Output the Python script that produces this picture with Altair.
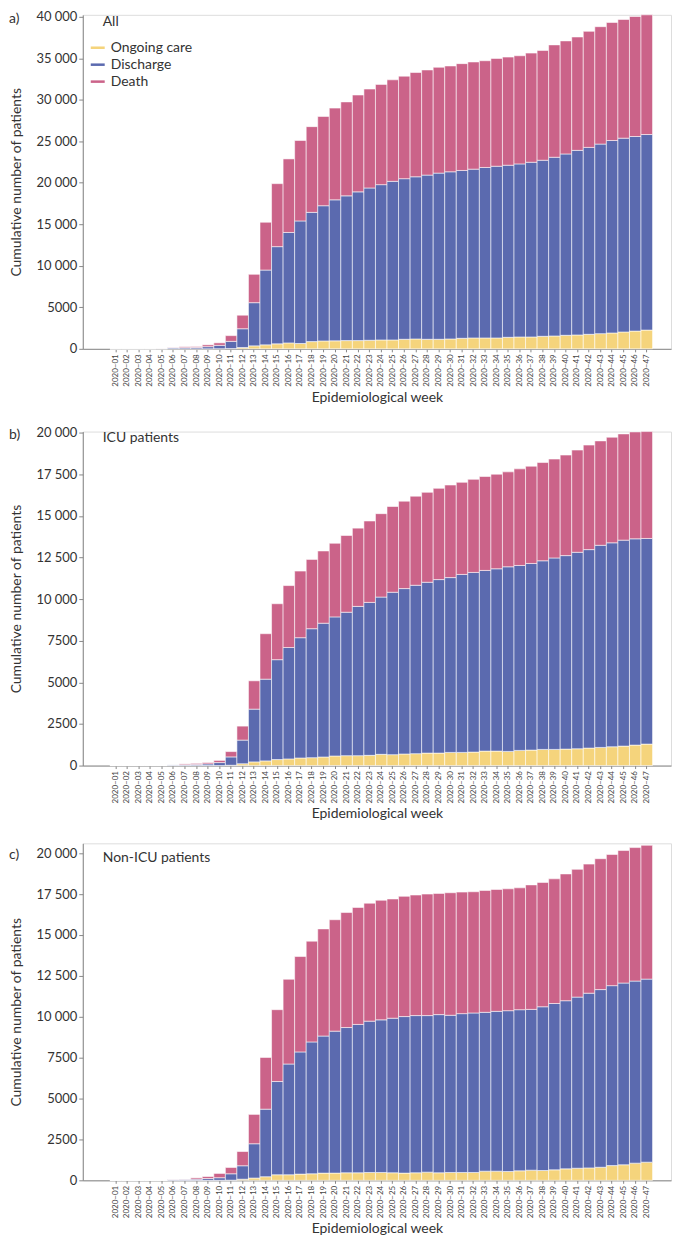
import altair as alt
import pandas as pd

FONT = "Lato"
weeks = [f"2020–{i:02d}" for i in range(1, 48)]
pad_left = ["pad1", "pad2"]
pad_right = ["pad3"]
outcomes = ["Ongoing care", "Discharge", "Death"]
colors = ["#F5D47C", "#5B6AAF", "#CB6389"]

# Panel a) All
ongoing_a = [0,0,0,0,0,0,0,0,0,10, 30,160,360,480,600,715,640,870,950,960,
             990,990,1030,1070,1070,1150,1190,1150,1150,1190, 1270,1310,1310,1310,1390,1430,1430,1510,1550,1630,
             1670,1750,1830,1910,2030,2140,2260]
discharge_a = [0,0,0,0,10,120,140,160,260,410, 870,2260,5200,9010,11710,13305,14770,15570,16290,16990,
               17440,17920,18350,18710,19110,19350,19540,19780,20020,20140, 20220,20340,20540,20690,20730,20850,21050,21210,21530,21850,
               22240,22520,22840,23190,23350,23440,23560]
death_a = [0,0,0,0,10,40,110,110,220,300, 690,1630,3420,5760,7590,8860,9690,10330,10760,11050,
           11320,11670,11920,12080,12230,12350,12560,12670,12750,12750, 12870,12910,12860,12990,13030,13030,13150,13230,13540,13620,
           13660,13980,14140,14220,14300,14460,14420]

# Panel b) ICU patients
ongoing_b = [0,0,0,0,0,0,0,0,0,0, 20,110,220,280,360,400,455,475,515,575,
             595,595,615,675,655,695,715,750,750,790, 790,810,870,870,850,910,930,970,970,990,
             1010,1050,1090,1130,1170,1230,1290]
discharge_b = [0,0,0,0,0,40,50,70,100,180, 500,1420,3170,4910,6000,6690,7225,7745,8035,8355,
               8615,8965,9185,9445,9755,9935,10115,10260,10420,10500, 10690,10790,10850,10950,11090,11110,11210,11330,11500,11620,
               11800,11920,12140,12250,12370,12390,12350]
death_b = [0,0,0,0,0,0,50,60,80,130, 320,840,1700,2730,3360,3720,4000,4160,4340,4420,
           4610,4700,4890,5010,5150,5250,5350,5400,5480,5560, 5530,5590,5640,5680,5700,5800,5840,5900,5940,6040,
           6140,6280,6270,6340,6380,6420,6420]

# Panel c) Non-ICU patients
ongoing_c = [0,0,0,0,0,0,0,0,0,0, 10,70,140,220,340,340,380,400,440,440,
             460,460,480,480,460,440,460,500,460,480, 480,480,560,560,540,580,620,600,640,700,
             740,760,800,900,950,1050,1110]
discharge_c = [0,0,0,0,0,50,60,70,110,160, 390,820,2095,4130,5700,6770,7470,8060,8380,8680,
               8880,9070,9250,9330,9450,9570,9610,9570,9670,9610, 9710,9750,9710,9770,9830,9850,9830,10010,10170,10280,
               10460,10680,10860,11000,11110,11130,11190]
death_c = [0,0,0,0,0,10,10,80,120,260, 385,870,1795,3160,4390,5180,5830,6160,6550,6810,
           7030,7150,7210,7310,7290,7350,7370,7430,7410,7490, 7430,7410,7450,7450,7450,7450,7610,7600,7620,7750,
           7810,7890,8000,8020,8100,8160,8180]

ticks_a = [0, 5000, 10000, 15000, 20000, 25000, 30000, 35000, 40000]
ticks_bc = [0, 2500, 5000, 7500, 10000, 12500, 15000, 17500, 20000]

LABEL_EXPR = "datum.value >= 10000 ? replace(format(datum.value, ','), ',', ' ') : format(datum.value, 'd')"


def panel(letter, title, ongoing, discharge, death, ticks, show_legend, ytop, height):
    rows = []
    for i, w in enumerate(weeks):
        for k, vals in enumerate([ongoing, discharge, death]):
            rows.append({"week": w, "outcome": outcomes[k], "value": vals[i], "order": k})
    df = pd.DataFrame(rows)

    if show_legend:
        legend = alt.Legend(
            title=None, orient="none", legendX=8, legendY=26,
            symbolType="M-1,-0.18H1V0.18H-1Z", symbolSize=196, symbolStrokeWidth=0,
            labelFontSize=14, labelFont=FONT, labelColor="#333", rowPadding=3, labelOffset=6,
        )
    else:
        legend = None

    bars = alt.Chart(df).mark_bar(stroke="white", strokeWidth=0.7, strokeOpacity=0.8).encode(
        x=alt.X("week:O",
                scale=alt.Scale(domain=pad_left + weeks + pad_right, paddingInner=0,
                                paddingOuter=0.475, align=0.37),
                axis=alt.Axis(title="Epidemiological week", values=weeks, labelAngle=-90, labelFontSize=8,
                              labelFont=FONT, labelColor="#444", tickSize=3, labelPadding=2,
                              titleFontSize=14, titleFont=FONT, titleColor="#333", titleFontWeight="normal",
                              titlePadding=4, domainColor="#888", tickColor="#888")),
        y=alt.Y("value:Q", stack="zero",
                scale=alt.Scale(domain=[0, ytop], nice=False),
                axis=alt.Axis(title="Cumulative number of patients", values=ticks, labelExpr=LABEL_EXPR,
                              labelFontSize=13, labelFont=FONT, labelColor="#333", tickSize=4,
                              labelPadding=2, grid=False, titleFontSize=14, titleFont=FONT,
                              titleColor="#333", titleFontWeight="normal", titlePadding=12,
                              domainColor="#888", tickColor="#888")),
        color=alt.Color("outcome:N", scale=alt.Scale(domain=outcomes, range=colors), legend=legend),
        order=alt.Order("order:Q", sort="ascending"),
    )

    top = ticks[-1]
    ttl = alt.Chart(pd.DataFrame({"t": [title], "y": [top]})).mark_text(
        align="left", baseline="middle", fontSize=14, font=FONT, color="#333", dy=5
    ).encode(text="t:N", x=alt.value(20), y=alt.Y("y:Q"))
    lab = alt.Chart(pd.DataFrame({"t": [letter], "y": [top]})).mark_text(
        align="left", baseline="middle", fontSize=14, font=FONT, color="#333", dy=2
    ).encode(text="t:N", x=alt.value(-74), y=alt.Y("y:Q"))

    return alt.layer(bars, ttl, lab).resolve_scale(color="independent").properties(width=590, height=height)


pa = panel("a)", "All", ongoing_a, discharge_a, death_a, ticks_a, True, 40240, 335)
pb = panel("b)", "ICU patients", ongoing_b, discharge_b, death_b, ticks_bc, False, 20060, 335)
pc = panel("c)", "Non-ICU patients", ongoing_c, discharge_c, death_c, ticks_bc, False, 20600, 338)

chart = alt.vconcat(pa, pb, pc, spacing=21).resolve_scale(color="independent").properties(
    padding={"left": 0, "top": 0, "right": 0, "bottom": 0}
).configure_view(strokeWidth=0).configure(font=FONT)

chart.save("out.html", embed_options={"renderer": "svg", "actions": False})
